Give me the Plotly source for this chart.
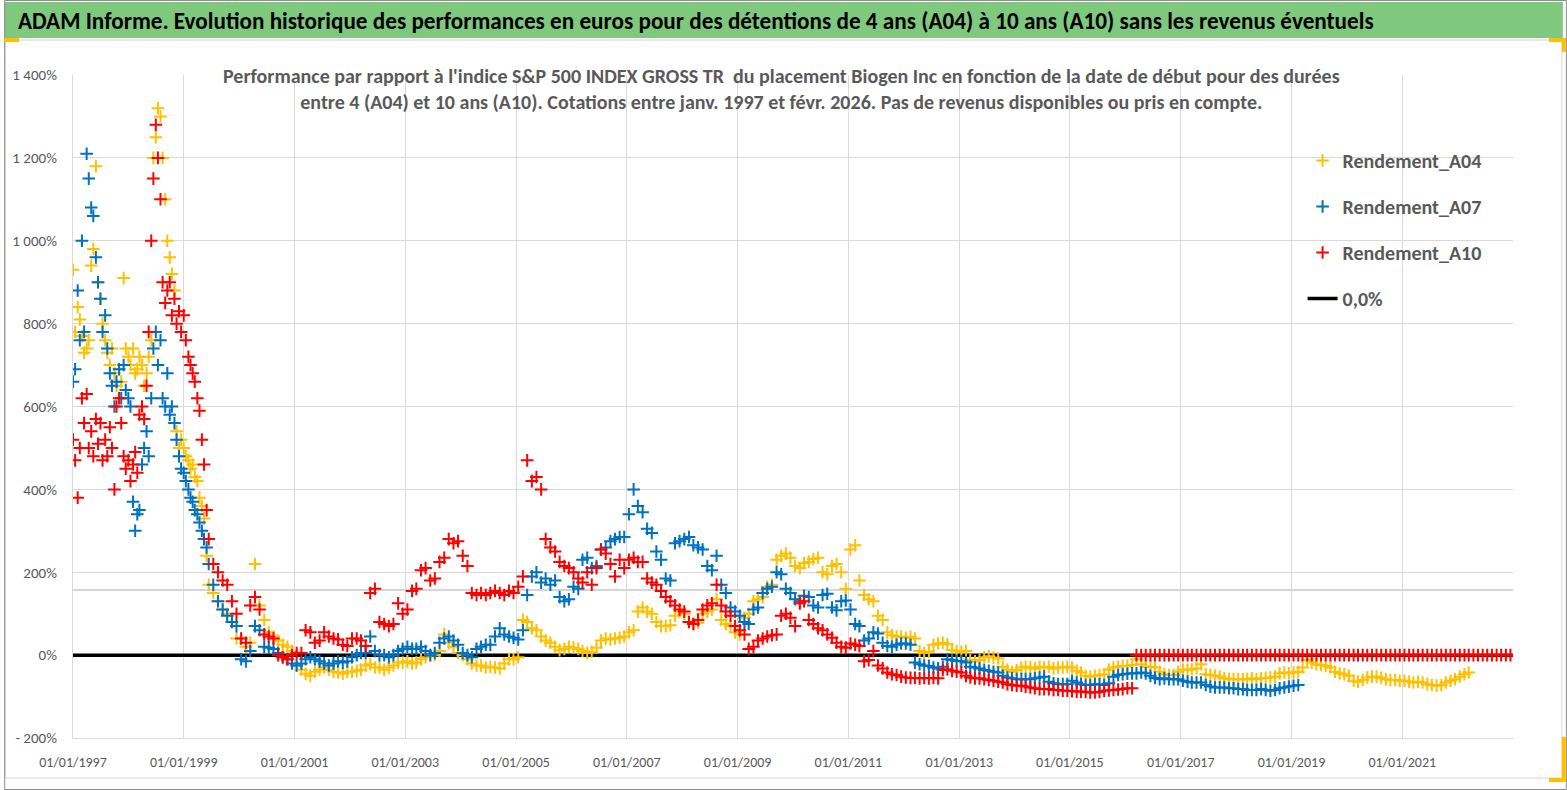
import pandas as pd
import plotly.graph_objects as go

# ---------------- DATA ----------------
# Early period: two readings per month (1st and 15th), Jan 1997 -> Jun 1999
a04_early = [930, 780, 840, 810, 770, 730, 740, 760, 940, 980, 1180, 900,
             860, 800, 760, 730, 700, 740, 680, 650, 690, 660, 910, 740,
             720, 700, 740, 680, 690, 720, 700, 650, 680, 720, 760, 1200,
             1250, 1320, 1300, 1200, 1100, 1000, 960, 920, 880, 540, 500, 520,
             500, 480, 470, 450, 460, 430, 420, 380, 360, 330, 240, 170]
a07_early = [660, 690, 880, 760, 1000, 780, 1210, 1150, 1080, 1060, 960, 900,
             860, 780, 820, 740, 680, 650, 600, 660, 690, 620, 700, 640,
             620, 600, 370, 300, 340, 350, 460, 500, 540, 480, 620, 740,
             780, 700, 760, 620, 600, 680, 580, 600, 560, 520, 480, 450,
             440, 420, 400, 380, 370, 350, 340, 320, 300, 280, 260, 220]
a10_early = [520, 470, 380, 500, 620, 560, 630, 500, 540, 480, 570, 510,
             560, 470, 520, 480, 550, 500, 400, 600, 620, 560, 480, 450,
             470, 420, 460, 490, 440, 580, 600, 570, 650, 780, 1000, 1150,
             1280, 1200, 1100, 900, 850, 880, 900, 820, 860, 800, 830, 780,
             820, 760, 720, 700, 680, 660, 620, 590, 520, 460, 350, 280]

# Monthly readings from Jul 1999
a04_monthly = [
    150, 130, 110, 100, 80, 40,                                   # 1999 H2
    40, 20, 30, 220, 120, 85, 55, 45, 35, 25, 20, 10,             # 2000
    -25, -35, -45, -50, -40, -35, -30, -35, -40, -42, -45, -40,   # 2001
    -40, -38, -35, -25, -22, -30, -30, -35, -30, -25, -18, -18,   # 2002
    -15, -20, -18, -10, -5, 0, 0, 10, 50, 30, 20, 5,              # 2003
    0, -10, -20, -25, -25, -30, -28, -30, -32, -20, -10, -10,     # 2004
    -5, 85, 80, 65, 60, 45, 35, 30, 20, 12, 15, 20,               # 2005
    18, 15, 10, 5, 8, 18, 35, 40, 38, 40, 42, 45,                 # 2006
    55, 60, 105, 115, 105, 100, 80, 70, 70, 72, 95, 105,          # 2007
    100, 80, 75, 78, 100, 105, 110, 135, 85, 75, 70, 55,          # 2008
    50, 90, 100, 130, 135, 140, 165, 170, 230, 240, 245, 235,     # 2009
    215, 210, 222, 225, 232, 235, 200, 195, 215, 220, 200, 160,   # 2010
    255, 265, 180, 145, 135, 130, 95, 85, 55, 48, 45, 45,         # 2011
    42, 44, 40, 10, 5, 8, 25, 28, 30, 26, 12, 10,                 # 2012
    8, 10, -12, -15, -12, -5, -3, -6, -8, -28, -35, -40,          # 2013
    -36, -30, -28, -30, -32, -28, -30, -28, -32, -30, -30, -28,   # 2014
    -30, -38, -42, -50, -52, -50, -48, -46, -35, -30, -28, -26,   # 2015
    -26, -24, -10, -22, -28, -28, -30, -40, -46, -48, -48, -40,   # 2016
    -35, -35, -34, -32, -22, -46, -48, -50, -52, -56, -58, -58,   # 2017
    -58, -58, -58, -56, -58, -56, -55, -54, -52, -44, -42, -44,   # 2018
    -42, -40, -30, -12, -18, -22, -24, -26, -30, -40, -44, -46,   # 2019
    -50, -62, -64, -60, -54, -52, -52, -55, -58, -60, -60, -62,   # 2020
    -62, -64, -66, -64, -66, -70, -72, -74, -72, -66, -62, -58,   # 2021
    -52, -46, -42,                                                # 2022
]
a07_monthly = [
    170, 130, 110, 95, 80, 70,                                    # 1999 H2
    -10, -15, 10, 70, 60, 20, 18, 15, 5, -5, -10, -20,            # 2000
    -25, -20, -10, -5, -10, -15, -20, -25, -20, -15, -18, -15,    # 2001
    -5, 0, 5, 5, 45, 10, 0, 0, -5, 0, 10, 15,                     # 2002
    20, 15, 15, 20, 10, 0, 5, 30, 40, 45, 35, 25,                 # 2003
    5, 0, -5, 15, 20, 25, 25, 45, 65, 50, 45, 42,                 # 2004
    38, 60, 145, 190, 200, 175, 185, 170, 180, 140, 130, 135,     # 2005
    165, 160, 230, 235, 210, 215, 255, 260, 275, 280, 285, 285,   # 2006
    340, 400, 360, 345, 305, 295, 250, 230, 185, 180, 270, 275,   # 2007
    280, 285, 265, 260, 255, 215, 205, 240, 170, 150, 115, 105,   # 2008
    95, 80, 75, 110, 115, 150, 160, 165, 200, 195, 160, 150,      # 2009
    135, 130, 143, 140, 120, 115, 145, 148, 115, 108, 130, 132,   # 2010
    110, 75, 70, 35, 40, 55, 52, 30, 22, 20, 25, 28,              # 2011
    28, 25, -18, -22, -25, -26, -30, -32, -28, -10, -12, -14,     # 2012
    -15, -18, -28, -30, -32, -36, -38, -40, -42, -50, -54, -56,   # 2013
    -58, -58, -58, -58, -56, -54, -52, -64, -68, -70, -70, -70,   # 2014
    -62, -66, -70, -72, -72, -70, -70, -72, -68, -52, -48, -46,   # 2015
    -45, -44, -44, -42, -44, -50, -55, -58, -56, -58, -58, -58,   # 2016
    -62, -64, -66, -66, -66, -72, -76, -78, -78, -78, -80, -80,   # 2017
    -82, -82, -84, -84, -84, -82, -84, -86, -84, -80, -78, -76,   # 2018
    -74, -72,                                                     # 2019
]
a10_monthly = [
    220, 200, 180, 170, 130, 100,                                 # 1999 H2
    40, 30, 120, 140, 110, 50, 45, 40, 0, -5, -10, 0,             # 2000
    5, 5, 60, 55, 30, 35, 55, 45, 40, 38, 25, 22,                 # 2001
    40, 40, 35, 22, 150, 160, 80, 75, 70, 75, 125, 100,           # 2002
    110, 155, 160, 205, 210, 180, 185, 225, 235, 280, 270, 275,   # 2003
    240, 215, 150, 145, 150, 145, 150, 155, 150, 145, 155, 150,   # 2004
    165, 190, 470, 420, 430, 400, 280, 260, 250, 225, 215, 210,   # 2005
    200, 185, 175, 200, 170, 210, 255, 245, 220, 190, 230, 210,   # 2006
    230, 235, 225, 225, 185, 175, 170, 155, 140, 130, 120, 110,   # 2007
    105, 80, 75, 85, 110, 120, 125, 170, 120, 105, 95, 70,        # 2008
    60, 50, 15, 20, 35, 40, 45, 48, 50, 95, 100, 90,              # 2009
    70, 125, 130, 85, 75, 65, 60, 50, 42, 30, 20, 18,             # 2010
    28, 25, 22, -15, -12, 10, -25, -32, -42, -46, -48, -52,       # 2011
    -54, -55, -55, -56, -55, -56, -55, -56, -36, -34, -38, -40,   # 2012
    -42, -50, -54, -56, -56, -58, -60, -62, -64, -66, -70, -72,   # 2013
    -74, -74, -76, -78, -80, -82, -82, -82, -84, -84, -86, -86,   # 2014
    -87, -88, -88, -89, -90, -90, -89, -86, -85, -84, -83, -82,   # 2015
    -80, -80,                                                     # 2016 Jan-Feb
    # Mar 2016 onwards: the series sits at 0
    0, 0, 0, 0, 0, 0, 0, 0, 0, 0,                                 # 2016 Mar-Dec
    0, 0, 0, 0, 0, 0, 0, 0, 0, 0, 0, 0,                           # 2017
    0, 0, 0, 0, 0, 0, 0, 0, 0, 0, 0, 0,                           # 2018
    0, 0, 0, 0, 0, 0, 0, 0, 0, 0, 0, 0,                           # 2019
    0, 0, 0, 0, 0, 0, 0, 0, 0, 0, 0, 0,                           # 2020
    0, 0, 0, 0, 0, 0, 0, 0, 0, 0, 0, 0,                           # 2021
    0, 0, 0, 0, 0, 0, 0, 0, 0, 0, 0, 0,                           # 2022
]
zero_line_dates = ["1997-01-01", "2022-12-31"]
zero_line_values = [0, 0]
ref_line_value = 157  # faint horizontal line seen across the plot

x_tick_dates = ["1997-01-01", "1999-01-01", "2001-01-01", "2003-01-01", "2005-01-01",
                "2007-01-01", "2009-01-01", "2011-01-01", "2013-01-01", "2015-01-01",
                "2017-01-01", "2019-01-01", "2021-01-01"]
x_tick_labels = ["01/01/1997", "01/01/1999", "01/01/2001", "01/01/2003", "01/01/2005",
                 "01/01/2007", "01/01/2009", "01/01/2011", "01/01/2013", "01/01/2015",
                 "01/01/2017", "01/01/2019", "01/01/2021"]
y_tick_values = [-200, 0, 200, 400, 600, 800, 1000, 1200, 1400]
y_tick_labels = ["- 200%", "0%", "200%", "400%", "600%", "800%", "1 000%", "1 200%", "1 400%"]

series_names = ["Rendement_A04", "Rendement_A07", "Rendement_A10"]
series_colors = ["#FFC000", "#0070C0", "#FF0000"]
zero_name = "0,0%"

title_text = ("ADAM Informe. Evolution historique des performances en euros pour des "
              "détentions de 4 ans (A04) à 10 ans (A10) sans les revenus éventuels")
subtitle_text = ("Performance par rapport à l'indice S&P 500 INDEX GROSS TR  du placement Biogen Inc "
                 "en fonction de la date de début pour des durées<br>entre 4 (A04) et 10 ans (A10). "
                 "Cotations entre janv. 1997 et févr. 2026. Pas de revenus disponibles ou pris en compte.")


def build_dates(n_early, n_monthly):
    early = pd.date_range("1997-01-01", periods=n_early, freq="SMS")
    monthly = pd.date_range("1999-07-01", periods=n_monthly, freq="MS") + pd.Timedelta(days=14)
    return list(early) + list(monthly)


series_values = [a04_early + a04_monthly, a07_early + a07_monthly, a10_early + a10_monthly]
series_dates = [build_dates(len(a04_early), len(a04_monthly)),
                build_dates(len(a07_early), len(a07_monthly)),
                build_dates(len(a10_early), len(a10_monthly))]

# ---------------- LAYOUT HELPERS ----------------
W, H = 1567, 790
ML, MR, MT, MB = 69, 54, 75, 52
PW, PH = W - ML - MR, H - MT - MB


def fx(px):
    return (px - ML) / PW


def fy(py):
    return (H - MB - py) / PH


FONT = "Carlito, 'Liberation Sans Narrow', 'Open Sans', sans-serif"
GRID = "#D9D9D9"
TXT = "#595959"

fig = go.Figure()
# zero line first so it sits under the markers
fig.add_trace(go.Scatter(
    x=zero_line_dates, y=zero_line_values, mode="lines", name="<b>" + zero_name + "</b>",
    legendgroup="zero", legendrank=4,
    line=dict(color="black", width=3.5),
))
for i, (name, color) in enumerate(zip(series_names, series_colors)):
    fig.add_trace(go.Scatter(
        x=series_dates[i], y=series_values[i], mode="markers", name="<b>" + name + "</b>",
        legendgroup=name, legendrank=i + 1,
        marker=dict(symbol="cross-thin", size=9, color=color,
                    line=dict(color=color, width=2)),
    ))

shapes = [
    # green title band
    dict(type="rect", xref="paper", yref="paper", x0=fx(0), x1=fx(1563), y0=fy(38), y1=fy(2),
         fillcolor="#7FC97F", line=dict(width=0), layer="above"),
    # outer frame
    dict(type="rect", xref="paper", yref="paper", x0=fx(0.5), x1=fx(1566.5), y0=fy(789.5), y1=fy(0.5),
         line=dict(color="#8C8C8C", width=1), layer="above"),
    # inner chart frame
    dict(type="rect", xref="paper", yref="paper", x0=fx(1), x1=fx(1562), y0=fy(778), y1=fy(40),
         line=dict(color="#E3E3E3", width=1.5), layer="below"),
    # reference horizontal line
    dict(type="line", xref="paper", yref="y", x0=0, x1=1, y0=ref_line_value, y1=ref_line_value,
         line=dict(color="#C8C8C8", width=1.5), layer="between"),
    # white box behind subtitle
    dict(type="rect", xref="paper", yref="paper", x0=fx(209), x1=fx(1347), y0=fy(119), y1=fy(58),
         fillcolor="white", line=dict(width=0), layer="between"),
    # white box behind legend
    dict(type="rect", xref="paper", yref="paper", x0=fx(1278), x1=fx(1513), y0=fy(321), y1=fy(137),
         fillcolor="white", line=dict(width=0), layer="between"),
    # yellow selection handles
    dict(type="rect", xref="paper", yref="paper", x0=fx(0), x1=fx(15), y0=fy(42), y1=fy(38),
         fillcolor="#FFC000", line=dict(width=0), layer="above"),
    dict(type="rect", xref="paper", yref="paper", x0=fx(1549), x1=fx(1566), y0=fy(42), y1=fy(38),
         fillcolor="#FFC000", line=dict(width=0), layer="above"),
    dict(type="rect", xref="paper", yref="paper", x0=fx(1562), x1=fx(1566), y0=fy(52), y1=fy(38),
         fillcolor="#FFC000", line=dict(width=0), layer="above"),
    dict(type="rect", xref="paper", yref="paper", x0=fx(1549), x1=fx(1566), y0=fy(782), y1=fy(778),
         fillcolor="#FFC000", line=dict(width=0), layer="above"),
    dict(type="rect", xref="paper", yref="paper", x0=fx(1562), x1=fx(1566), y0=fy(782), y1=fy(737),
         fillcolor="#FFC000", line=dict(width=0), layer="above"),
]

annotations = [
    dict(text="<b>" + title_text + "</b>", xref="paper", yref="paper", x=fx(12), y=fy(21),
         xanchor="left", yanchor="middle", showarrow=False,
         font=dict(family=FONT, size=23.2, color="black")),
    dict(text="<b>" + subtitle_text + "</b>", xref="paper", yref="paper", x=fx(779), y=fy(89),
         xanchor="center", yanchor="middle", showarrow=False, align="center",
         font=dict(family=FONT, size=20, color=TXT)),
]

fig.update_layout(
    width=W, height=H,
    margin=dict(l=ML, r=MR, t=MT, b=MB),
    paper_bgcolor="white", plot_bgcolor="white",
    shapes=shapes, annotations=annotations,
    showlegend=True,
    legend=dict(x=fx(1302), y=fy(141), xanchor="left", yanchor="top",
                bgcolor="rgba(255,255,255,0)", font=dict(family=FONT, size=20, color=TXT),
                tracegroupgap=17, traceorder="grouped", itemwidth=30),
    xaxis=dict(type="date", range=["1997-01-01", "2023-01-01"],
               tickvals=x_tick_dates, ticktext=x_tick_labels,
               showgrid=True, gridcolor=GRID, gridwidth=1.2,
               showline=True, linecolor=GRID, linewidth=1.2, zeroline=False,
               ticks="", ticklabelstandoff=11,
               tickfont=dict(family=FONT, size=14, color=TXT)),
    yaxis=dict(range=[-200, 1400], tickvals=y_tick_values, ticktext=y_tick_labels,
               showgrid=True, gridcolor=GRID, gridwidth=1.2,
               showline=True, linecolor=GRID, linewidth=1.2, zeroline=False,
               ticks="", ticklabelstandoff=12,
               tickfont=dict(family=FONT, size=15, color=TXT)),
)

fig.write_html("out.html", config={"displayModeBar": False},
               post_script="document.body.style.margin='0px';")
